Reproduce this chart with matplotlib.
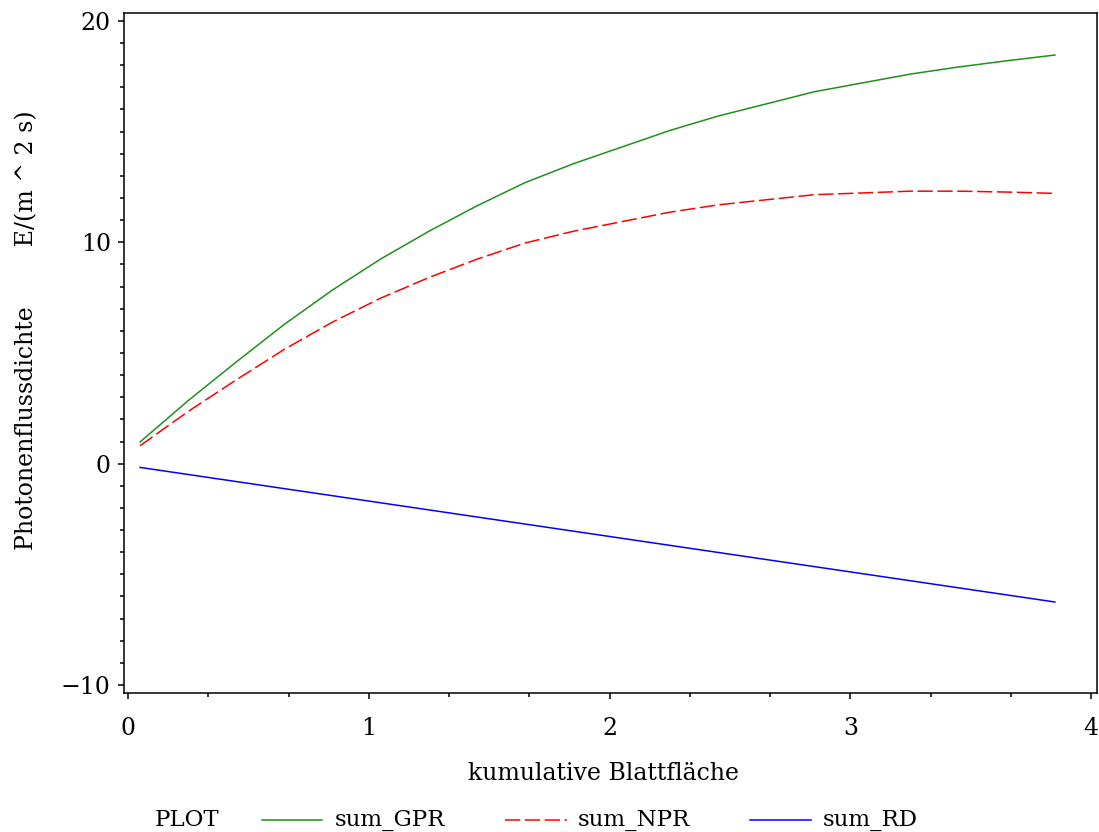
import numpy as np
import matplotlib
matplotlib.use("Agg")
from matplotlib import pyplot as plt
from matplotlib.lines import Line2D
from matplotlib.ticker import MultipleLocator

# cumulative leaf area and summed photon flux per layer
blattflaeche = [0.05, 0.25, 0.45, 0.65, 0.85, 1.05, 1.25, 1.45, 1.65, 1.85,
                2.05, 2.25, 2.45, 2.65, 2.85, 3.05, 3.25, 3.45, 3.65, 3.85]
sum_gpr = [0.98, 2.85, 4.60, 6.30, 7.85, 9.25, 10.50, 11.65, 12.70, 13.55,
           14.30, 15.05, 15.70, 16.25, 16.80, 17.20, 17.60, 17.92, 18.20, 18.46]
sum_npr = [0.81, 2.36, 3.79, 5.17, 6.40, 7.48, 8.41, 9.24, 9.97, 10.50,
           10.93, 11.36, 11.69, 11.92, 12.15, 12.23, 12.31, 12.31, 12.27, 12.21]
sum_rd = [-0.17, -0.49, -0.81, -1.13, -1.45, -1.77, -2.09, -2.41, -2.73, -3.05,
          -3.37, -3.69, -4.01, -4.33, -4.65, -4.97, -5.29, -5.61, -5.93, -6.25]

serien = ["sum_GPR", "sum_NPR", "sum_RD"]
farben = ["#1f8f1f", "#ff0000", "#0000ff"]
striche = [None, (10, 3), None]

plt.rcParams['font.family'] = ['DejaVu Serif']
fs = 17

fig = plt.figure(figsize=(10.99, 8.32), dpi=100)
ax = fig.add_axes([0.1128, 0.1671, 0.8854, 0.8173])

x = np.array(blattflaeche)
for name, y, c, d in zip(serien, [sum_gpr, sum_npr, sum_rd], farben, striche):
    line, = ax.plot(x, y, color=c, lw=1.1, label=name)
    if d is not None:
        line.set_dashes(d)

ax.set_xlim(-0.017, 4.025)
ax.set_ylim(-10.36, 20.36)
ax.xaxis.set_major_locator(MultipleLocator(1))
ax.xaxis.set_minor_locator(MultipleLocator(1 / 3))
ax.yaxis.set_major_locator(MultipleLocator(10))
ax.yaxis.set_minor_locator(MultipleLocator(1))
ax.tick_params(which='major', direction='out', length=4.5, width=1.1, labelsize=fs)
ax.tick_params(which='minor', direction='out', length=3, width=1.1)
ax.tick_params(axis='x', which='major', pad=13)
ax.tick_params(axis='y', which='major', pad=5)
ax.set_yticks([-10, 0, 10, 20])
ax.set_yticklabels(['\u221210', '0', '10', '20'])
for s in ax.spines.values():
    s.set_linewidth(1.1)

fig.text(604 / 1099, 1 - 773 / 832, "kumulative Blattfläche", ha='center', va='center', fontsize=fs)
fig.text(27 / 1099, 1 - 330 / 832, "Photonenflussdichte        E/(m ^ 2 s)", rotation=90,
         ha='center', va='center', fontsize=fs)

# legend row along the bottom
ly = 1 - 820 / 832
lfs = 16.5
fig.text(155 / 1099, ly, "PLOT", ha='left', va='center', fontsize=lfs)
keys = [(262, 322, 335), (505, 567, 578), (750, 811, 823)]
for (x0, x1, xt), name, c, d in zip(keys, serien, farben, striche):
    ln = Line2D([x0 / 1099, x1 / 1099], [ly, ly], transform=fig.transFigure, color=c, lw=1.1)
    if d is not None:
        ln.set_dashes(d)
    fig.add_artist(ln)
    fig.text(xt / 1099, ly, name, ha='left', va='center', fontsize=lfs)

fig.savefig("out.png", dpi=100)
